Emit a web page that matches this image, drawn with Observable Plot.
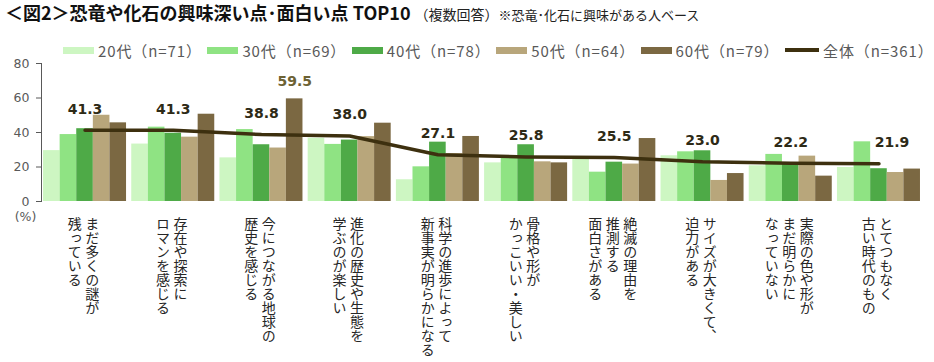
<!DOCTYPE html>
<html>
<head>
<meta charset="utf-8">
<script src="https://cdn.jsdelivr.net/npm/d3@7"></script>
<script src="https://cdn.jsdelivr.net/npm/@observablehq/plot@0.6"></script>
<style>
  body { margin: 0; background: #fff; font-family: "Noto Sans CJK JP", sans-serif; }
  #wrap { width: 934px; }
  .title { height: 28px; padding-left: 5px; white-space: nowrap; color: #111; line-height: 25px; }
  .title .main { font-size: 18px; font-weight: bold; }
  .title .sub { font-size: 14px; color: #222; margin-left: 4px; }
  .title .note { font-size: 13px; color: #222; }
  .legend { position: relative; height: 30px; }
  .legend .item { position: absolute; top: 14px; height: 16px; display: flex; align-items: center;
                  font-size: 15px; letter-spacing: 0.9px; color: #595959; white-space: nowrap; }
  .legend .sw { display: inline-block; margin-right: 4px; }
  .vlabel { writing-mode: vertical-rl; }
</style>
</head>
<body>
<div id="wrap">
  <div class="title"><span class="main">＜図2＞恐竜や化石の興味深い点･面白い点 TOP10</span><span class="sub">（複数回答）</span><span class="note">※恐竜･化石に興味がある人ベース</span></div>
  <div class="legend" id="legend"></div>
  <div id="chart"></div>
</div>
<script>
// Categories (line breaks mark the vertical label columns)
const categories = [
  "まだ多くの謎が\n残っている",
  "存在や探索に\nロマンを感じる",
  "今につながる地球の\n歴史を感じる",
  "進化の歴史や生態を\n学ぶのが楽しい",
  "科学の進歩によって\n新事実が明らかになる",
  "骨格や形が\nかっこいい・美しい",
  "絶滅の理由を\n推測する\n面白さがある",
  "サイズが大きくて、\n迫力がある",
  "実際の色や形が\nまだ明らかに\nなっていない",
  "とてつもなく\n古い時代のもの"
];

// Series names
const ageGroups = ["20代（n=71）", "30代（n=69）", "40代（n=78）", "50代（n=64）", "60代（n=79）"];
const overallName = "全体（n=361）";

// Values (%) per age group
const age20 = [29.5, 33.3, 25.3, 36.7, 12.6, 22.4, 24.4, 26.5, 20.7, 19.7];
const age30 = [38.8, 43.1, 41.7, 33.1, 20.1, 25.0, 17.0, 28.8, 27.3, 34.6];
const age40 = [42.2, 39.6, 32.9, 35.6, 34.4, 32.9, 22.8, 29.4, 22.0, 19.0];
const age50 = [50.0, 37.3, 31.0, 37.6, 27.8, 23.0, 21.7, 12.2, 26.3, 16.8];
const age60 = [45.6, 50.6, 59.5, 45.4, 37.7, 22.4, 36.5, 16.2, 14.7, 18.8];
// Overall (line)
const overall = [41.3, 41.3, 38.8, 38.0, 27.1, 25.8, 25.5, 23.0, 22.2, 21.9];

// Y-axis tick values
const yTicks = [0, 20, 40, 60, 80];

// ---- styling ----
const seriesValues = [age20, age30, age40, age50, age60];
const seriesColors = ["#cdf6c2", "#8fe383", "#4eaa47", "#b8a67b", "#7b6842"];
const lineColor = "#3d300f";
const numFont = "DejaVu Sans, Verdana, sans-serif";
const jpFont = "Noto Sans CJK JP, sans-serif";

const width = 934, height = 304;
const marginTop = 5, marginBottom = 161, marginLeft = 41, marginRight = 12;
const paddingInner = 0.059, paddingOuter = 0.023;

// band geometry, shared by the five bar marks that split each band
const band = d3.scaleBand().domain(categories)
  .range([marginLeft, width - marginRight])
  .paddingInner(paddingInner).paddingOuter(paddingOuter);
const sub = band.bandwidth() / seriesValues.length;

// legend
const legend = document.getElementById("legend");
const legendStep = 144.4, legendStart = 63;
ageGroups.forEach((name, i) => {
  const item = document.createElement("div");
  item.className = "item";
  item.style.left = (legendStart + i * legendStep) + "px";
  item.innerHTML = `<span class="sw" style="width:31px;height:7px;background:${seriesColors[i]}"></span>${name}`;
  legend.appendChild(item);
});
{
  const item = document.createElement("div");
  item.className = "item";
  item.style.left = (legendStart + ageGroups.length * legendStep) + "px";
  item.innerHTML = `<span class="sw" style="width:34px;height:4px;background:${lineColor}"></span>${overallName}`;
  legend.appendChild(item);
}

// label columns for the vertical category text
const lines = categories.map(c => c.split("\n"));
const labelTexts = new Set(lines.flat());
const colStep = 17.5;
const labelMarks = [];
for (const n of [2, 3]) {
  for (let i = 0; i < n; i++) {
    const idx = d3.range(categories.length).filter(j => lines[j].length === n);
    labelMarks.push(Plot.text(idx, {
      x: j => categories[j],
      y: () => 0,
      text: j => lines[j][i],
      dx: ((n - 1) / 2 - i) * colStep - 1.5,
      dy: 11,
      textAnchor: "start",
      fontSize: 14,
      fontFamily: jpFont,
      fill: "#262626"
    }));
  }
}

// highlighted maximum of the 60代 series
const maxIdx = d3.maxIndex(age60);
const last = overall.length - 1;

const chart = Plot.plot({
  width, height, marginTop, marginBottom, marginLeft, marginRight,
  style: { fontFamily: numFont, fontSize: "12.5px", color: "#595959", background: "transparent", overflow: "visible" },
  x: { domain: categories, paddingInner, paddingOuter, round: false, axis: null },
  y: { domain: [0, 80], ticks: yTicks, tickSize: 5, tickPadding: 7, line: true, label: null },
  marks: [
    ...seriesValues.map((vals, i) => Plot.barY(vals, {
      x: categories,
      y: vals,
      fill: seriesColors[i],
      insetLeft: i * sub,
      insetRight: (seriesValues.length - 1 - i) * sub
    })),
    Plot.line(overall, { x: categories, y: overall, stroke: lineColor, strokeWidth: 3.5 }),
    Plot.text(overall, {
      x: categories, y: overall, text: d => d.toFixed(1),
      filter: (d, j) => j !== last,
      dy: -21, fontSize: 14, fontWeight: "bold", fontFamily: numFont, fill: "#2e2a16"
    }),
    Plot.text(overall, {
      x: categories, y: overall, text: d => d.toFixed(1),
      filter: (d, j) => j === last,
      dx: 13, dy: -21, fontSize: 14, fontWeight: "bold", fontFamily: numFont, fill: "#2e2a16"
    }),
    Plot.text([age60[maxIdx]], {
      x: [categories[maxIdx]], y: [age60[maxIdx]], text: d => d.toFixed(1),
      dx: 2 * sub, dy: -17, fontSize: 14, fontWeight: "bold", fontFamily: numFont, fill: "#6d6234"
    }),
    Plot.text(["(%)"], {
      frameAnchor: "bottom-left", dx: -16, dy: 19, textAnchor: "middle",
      fontSize: 12.5, fontFamily: numFont, fill: "#595959"
    }),
    ...labelMarks
  ]
});

// set category labels in vertical Japanese writing
chart.querySelectorAll("text").forEach(t => {
  if (labelTexts.has(t.textContent)) {
    t.removeAttribute("dy");
    t.setAttribute("writing-mode", "vertical-rl");
    t.setAttribute("text-anchor", "start");
    t.classList.add("vlabel");
  }
});

document.getElementById("chart").appendChild(chart);
</script>
</body>
</html>
